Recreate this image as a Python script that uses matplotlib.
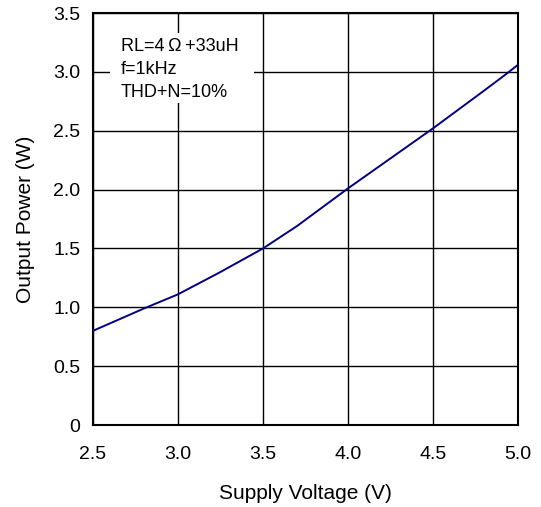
import matplotlib
matplotlib.use("Agg")
import matplotlib.pyplot as plt
from matplotlib.patches import Rectangle

plt.rcParams['font.family'] = ['Liberation Sans', 'DejaVu Sans']

supply_voltage = [2.5, 2.8, 3.0, 3.25, 3.5, 3.7, 4.0, 4.5, 4.8, 4.92, 5.0]
output_power = [0.80, 0.99, 1.11, 1.30, 1.50, 1.69, 2.01, 2.52, 2.84, 2.97, 3.06]
x_ticks = [2.5, 3.0, 3.5, 4.0, 4.5, 5.0]
x_tick_labels = ["2.5", "3.0", "3.5", "4.0", "4.5", "5.0"]
y_ticks = [0, 0.5, 1.0, 1.5, 2.0, 2.5, 3.0, 3.5]
y_tick_labels = ["0", "0.5", "1.0", "1.5", "2.0", "2.5", "3.0", "3.5"]

fig = plt.figure(figsize=(5.41, 5.07), dpi=100)
ax = fig.add_axes([93/541, 1-425/507, (518-93)/541, (425-13)/507])

ax.plot(supply_voltage, output_power, color='#000080', lw=1.4, zorder=3)

ax.set_xlim(2.5, 5.0)
ax.set_ylim(0, 3.5)
ax.set_xticks(x_ticks)
ax.set_xticklabels(x_tick_labels, fontsize=14)
ax.set_yticks(y_ticks)
ax.set_yticklabels(y_tick_labels, fontsize=14)
ax.tick_params(axis='x', length=0, pad=15)
ax.tick_params(axis='y', length=0, pad=9)
ax.grid(True, color='black', lw=1.0)
ax.set_axisbelow(True)
for s in ax.spines.values():
    s.set_linewidth(1.5)
    s.set_color('black')

ax.set_xlabel("Supply Voltage (V)", fontsize=15, labelpad=15)
ax.set_ylabel("Output Power (W)", fontsize=15, labelpad=13)

# white box behind annotation
ax.add_patch(Rectangle(((110-93)/425, (425-103)/412), (254-110)/425, (103-33)/412,
                       transform=ax.transAxes, facecolor='white', edgecolor='none', zorder=2))
ax.text((121-93)/425, (425-38)/412, "RL=4\u2009Ω\u2009+33uH\nf=1kHz\nTHD+N=10%",
        transform=ax.transAxes, fontsize=13, va='top', ha='left', linespacing=1.45, zorder=4)

fig.savefig("out.png", dpi=100)
